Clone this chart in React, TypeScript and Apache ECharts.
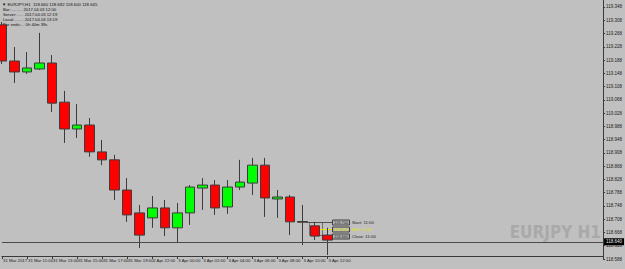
import React, { useEffect, useRef } from "react";
import * as echarts from "echarts";

const symbol = "EURJPY";
const period = "H1";

const barTimes = [
  "31 Mar 09:00", "31 Mar 10:00", "31 Mar 11:00", "31 Mar 12:00", "31 Mar 13:00",
  "31 Mar 14:00", "31 Mar 15:00", "31 Mar 16:00", "31 Mar 17:00", "31 Mar 18:00",
  "31 Mar 19:00", "31 Mar 20:00", "2 Apr 22:00", "2 Apr 23:00", "3 Apr 00:00",
  "3 Apr 01:00", "3 Apr 02:00", "3 Apr 03:00", "3 Apr 04:00", "3 Apr 05:00",
  "3 Apr 06:00", "3 Apr 07:00", "3 Apr 08:00", "3 Apr 09:00", "3 Apr 10:00",
  "3 Apr 11:00", "3 Apr 12:00",
];

const tickLabels = [
  "31 Mar 2017", "31 Mar 11:00", "31 Mar 13:00", "31 Mar 15:00", "31 Mar 17:00",
  "31 Mar 19:00", "2 Apr 22:00", "3 Apr 00:00", "3 Apr 02:00", "3 Apr 04:00",
  "3 Apr 06:00", "3 Apr 08:00", "3 Apr 10:00", "3 Apr 12:00",
];

const opens = [
  119.294, 119.185, 119.152, 119.161, 119.179, 119.061, 118.980, 118.992, 118.911,
  118.887, 118.796, 118.727, 118.712, 118.742, 118.682, 118.727, 118.802, 118.811,
  118.745, 118.805, 118.817, 118.871, 118.769, 118.775, 118.701, 118.688, 118.660,
];
const closes = [
  119.185, 119.152, 119.164, 119.179, 119.058, 118.980, 118.992, 118.911, 118.887,
  118.796, 118.721, 118.660, 118.742, 118.682, 118.727, 118.805, 118.811, 118.742,
  118.805, 118.820, 118.871, 118.772, 118.775, 118.700, 118.699, 118.657, 118.645,
];
const lows = [
  119.176, 119.119, 119.146, 119.158, 119.031, 118.938, 118.953, 118.896, 118.871,
  118.766, 118.700, 118.621, 118.682, 118.657, 118.636, 118.691, 118.736, 118.721,
  118.724, 118.796, 118.781, 118.715, 118.712, 118.660, 118.630, 118.645, 118.600,
];
const highs = [
  119.303, 119.227, 119.212, 119.270, 119.203, 119.095, 119.055, 119.013, 118.947,
  118.902, 118.832, 118.751, 118.778, 118.766, 118.757, 118.811, 118.832, 118.826,
  118.826, 118.887, 118.893, 118.893, 118.796, 118.781, 118.751, 118.700, 118.682,
];

const priceLabels = [
  118.588, 118.628, 118.668, 118.708, 118.748, 118.788, 118.828, 118.868, 118.908,
  118.948, 118.988, 119.028, 119.068, 119.108, 119.148, 119.188, 119.228, 119.268,
  119.308, 119.348,
];

const emptySlots = 22;
const infoLines = [
  "Bar:.......... 2017.04.03 12:00",
  "Server:...... 2017.04.03 12:19",
  "Local:........ 2017.04.03 13:19",
  "Bar ends:... 0h 40m 39s",
];
const markerTexts = ["Start: 11:00", "Mid: 11:00", "Close: 11:00"];
const markerPrices = [118.7, 118.69, 118.66];

export default function App() {
  const ref = useRef<HTMLDivElement>(null);
  useEffect(() => {
    document.body.style.margin = "0";
    if (!ref.current) return;
    const chart = echarts.init(ref.current, null, { renderer: "svg" });
    const n = barTimes.length;
    const cats = barTimes.concat(Array.from({ length: emptySlots }, (_, i) => `pad${i}`));
    const data = barTimes.map((_, i) => [opens[i], closes[i], lows[i], highs[i]]);
    const last = n - 1;
    const header = `${symbol},${period}  ${opens[last].toFixed(3)} ${highs[last].toFixed(3)} ${lows[last].toFixed(3)} ${closes[last].toFixed(3)}`;
    const showIdx = (i: number) => i < n && i % 2 === 0;
    const font = "Liberation Sans";

    chart.setOption({
      animation: false,
      backgroundColor: "#c0c0c0",
      grid: { left: 1.2, right: 20.4, top: 0, bottom: 10 },
      xAxis: {
        type: "category",
        data: cats,
        boundaryGap: false,
        offset: -3,
        axisLine: { show: true, lineStyle: { color: "#3a3a3a", width: 1 } },
        axisTick: {
          show: true,
          length: 3,
          interval: (i: number) => showIdx(i),
          lineStyle: { color: "#3a3a3a" },
        },
        axisLabel: {
          interval: (i: number) => showIdx(i),
          formatter: (_v: string, i: number) => (showIdx(i) ? tickLabels[i / 2] : ""),
          align: "left",
          margin: 2,
          padding: [0, 0, 0, 1],
          fontSize: 4.3,
          fontFamily: font,
          color: "#202020",
        },
        splitLine: { show: false },
      },
      yAxis: {
        type: "value",
        position: "right",
        min: 118.588,
        max: 119.369,
        axisLine: { show: true, lineStyle: { color: "#3a3a3a", width: 1 } },
        axisTick: {
          show: true,
          length: 2,
          customValues: priceLabels,
          lineStyle: { color: "#3a3a3a" },
        },
        axisLabel: {
          customValues: priceLabels,
          formatter: (v: number) => v.toFixed(3),
          margin: 3,
          fontSize: 4.5,
          fontFamily: font,
          color: "#202020",
        },
        splitLine: { show: false },
      },
      series: [
        {
          type: "candlestick",
          data,
          barWidth: 10,
          clip: false,
          itemStyle: {
            color: "#00ff00",
            color0: "#ff0000",
            borderColor: "#3c3c3c",
            borderColor0: "#3c3c3c",
            borderWidth: 1,
          },
          markLine: {
            silent: true,
            symbol: "none",
            lineStyle: { color: "#4a4a4a", type: "solid", width: 1 },
            label: {
              position: "end",
              distance: 1,
              formatter: (p: any) => Number(p.value).toFixed(3),
              backgroundColor: "#000",
              color: "#e8e8e8",
              fontSize: 4.5,
              fontFamily: font,
              padding: [1, 2, 1, 2],
            },
            data: [{ yAxis: closes[last] }],
          },
        },
      ],
      graphic: [
        {
          type: "text",
          left: 2,
          top: 2,
          style: { text: "▼ " + header, fontSize: 4.3, fontFamily: font, fill: "#101010" },
        },
        ...infoLines.map((t, i) => ({
          type: "text",
          left: 3,
          top: 7.5 + i * 4.9,
          style: { text: t, fontSize: 4.2, fontFamily: font, fill: "#101010" },
        })),
        {
          type: "text",
          right: 24,
          top: 223,
          style: {
            text: `${symbol} ${period}`,
            fontSize: 17,
            fontWeight: "bold",
            fontFamily: "DejaVu Sans Condensed",
            fill: "#a9a9a9",
          },
        },
        {
          type: "rect",
          shape: { x: 309.5, y: 222.5, width: 13, height: 13 },
          style: { fill: "none", stroke: "#707070", lineWidth: 1 },
        },
        { type: "line", shape: { x1: 307, y1: 222.5, x2: 332, y2: 222.5 }, style: { stroke: "#505050", lineWidth: 1 } },
        { type: "line", shape: { x1: 315, y1: 229.5, x2: 332, y2: 229.5 }, style: { stroke: "#e6e600", lineWidth: 1 } },
        { type: "line", shape: { x1: 322, y1: 236.5, x2: 332, y2: 236.5 }, style: { stroke: "#505050", lineWidth: 1 } },
        ...markerPrices.map((p, i) => ({
          type: "rect",
          shape: { x: 332.5, y: 220 + i * 7, width: 17, height: 5 },
          style: { fill: "#b4b4b4", stroke: "#404040", lineWidth: 1 },
        })),
        ...markerPrices.map((p, i) => ({
          type: "text",
          x: 334,
          y: 220.6 + i * 7,
          style: { text: p.toFixed(3), fontSize: 4, fontFamily: font, fill: i === 1 ? "#e6e600" : "#202020" },
        })),
        ...markerTexts.map((t, i) => ({
          type: "text",
          x: 352,
          y: 220.5 + i * 7,
          style: { text: t, fontSize: 4.3, fontFamily: font, fill: i === 1 ? "#e6e600" : "#202020" },
        })),
      ],
    });
    return () => chart.dispose();
  }, []);
  return <div ref={ref} style={{ width: 625, height: 269 }} />;
}
